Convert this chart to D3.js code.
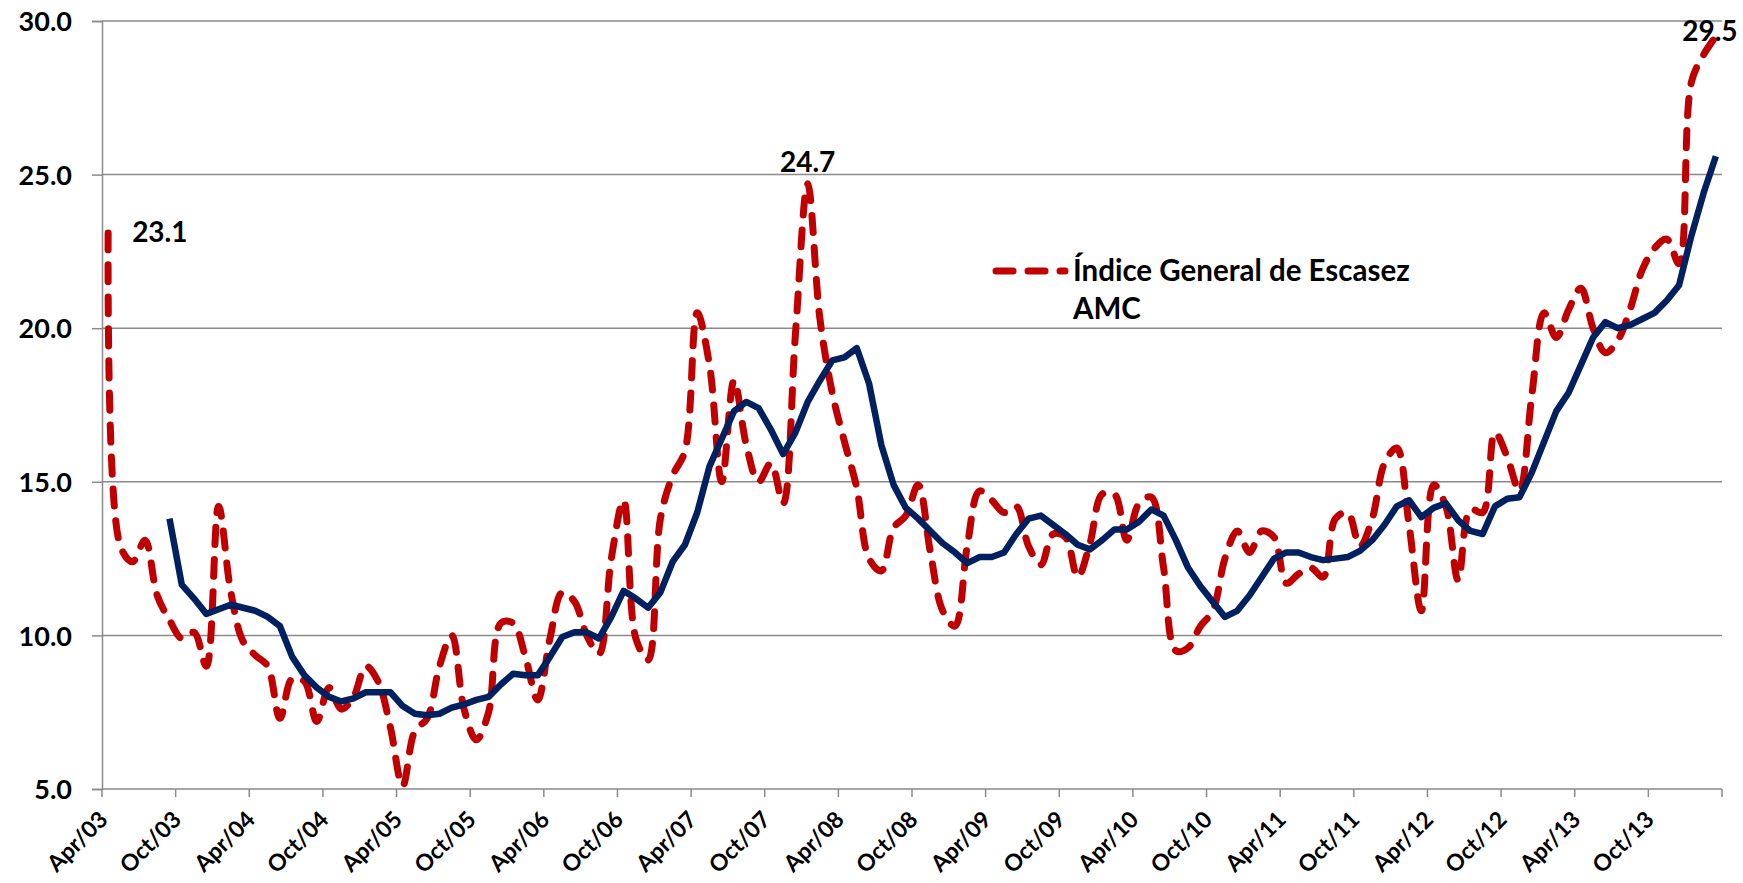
<!DOCTYPE html>
<html>
<head>
<meta charset="utf-8">
<script src="https://cdn.jsdelivr.net/npm/d3@7"></script>
<style>
  html, body { margin: 0; padding: 0; background: #fff; }
  svg text { font-family: Lato, "Open Sans", sans-serif; font-weight: 700; fill: #000; }
</style>
</head>
<body>
<div id="chart"></div>
<script>
(function () {
  "use strict";

  // monthly categories, Apr/03 .. Mar/14
  const MONTH_NAMES = ['Jan','Feb','Mar','Apr','May','Jun','Jul','Aug','Sep','Oct','Nov','Dec'];
  const months = d3.range(132).map(i => {
    const m = (3 + i) % 12, y = 3 + Math.floor((3 + i) / 12);
    return MONTH_NAMES[m] + '/' + String(y).padStart(2, '0');
  });

  const tickLabels = ['Apr/03','Oct/03','Apr/04','Oct/04','Apr/05','Oct/05','Apr/06','Oct/06',
    'Apr/07','Oct/07','Apr/08','Oct/08','Apr/09','Oct/09','Apr/10','Oct/10','Apr/11','Oct/11',
    'Apr/12','Oct/12','Apr/13','Oct/13'];

  const yTicks = [5, 10, 15, 20, 25, 30];

  // Índice General de Escasez (one row = Apr..Mar)
  const indice = [
    23.1, 12.9, 12.4, 13.1, 11.3, 10.5,  9.9, 10.1,  9.0, 14.2, 11.4,  9.8,
     9.35, 9.0,  7.3,  8.6,  8.5,  7.2,  8.3,  7.6,  8.0,  9.0,  8.5,  7.0,
     5.1,  6.9,  7.3,  9.0, 10.0,  7.6,  6.6,  7.5, 10.4, 10.4,  9.3,  7.9,
     9.9, 11.4, 11.1, 10.0,  9.4, 12.5, 14.4,  9.9,  9.2, 13.8, 15.2, 16.0,
    20.5, 18.8, 15.0, 18.3, 16.2, 15.0, 15.6, 14.3, 19.8, 24.7, 20.3, 17.9,
    16.3, 14.8, 12.5, 12.1, 13.5, 13.9, 14.9, 12.7, 10.8, 10.3, 12.9, 14.7,
    14.4, 14.0, 14.2, 12.9, 12.3, 13.3, 13.2, 11.9, 13.0, 14.6, 14.6, 13.1,
    14.3, 14.5, 12.2,  9.5,  9.6, 10.3, 10.8, 12.5, 13.4, 12.7, 13.4, 13.2,
    11.7, 12.0, 12.2, 11.9, 13.8, 14.0, 12.9, 13.8, 15.6, 16.1, 13.6, 10.8,
    14.9, 14.2, 11.8, 14.1, 14.0, 16.6, 15.8, 14.7, 17.8, 20.5, 19.7, 20.6,
    21.3, 20.0, 19.2, 19.6, 20.6, 21.9, 22.6, 22.9, 22.1, 28.0, 28.9, 29.5
  ];

  // AMC
  const amc = [
    null, null, null, null, null, 13.8, 11.65, 11.2, 10.7, 10.85, 11.0, 10.9,
    10.8, 10.6, 10.3,  9.3,  8.7,  8.3,  8.0,  7.85, 7.95, 8.15, 8.15, 8.15,
     7.7,  7.45, 7.4,  7.45, 7.65, 7.75, 7.9,  8.0,  8.4,  8.75, 8.7,  8.7,
     9.3,  9.95, 10.1, 10.1,  9.9, 10.6, 11.45, 11.2, 10.9, 11.4, 12.4, 12.95,
    14.0, 15.5, 16.4, 17.3, 17.6, 17.4, 16.7, 15.9, 16.6, 17.6, 18.3, 18.95,
    19.05, 19.35, 18.2, 16.2, 14.9, 14.15, 13.8, 13.4, 13.0, 12.7, 12.35, 12.55,
    12.55, 12.7, 13.3, 13.8, 13.9, 13.6, 13.3, 12.95, 12.8, 13.1, 13.45, 13.45,
    13.7, 14.1, 13.9, 13.1, 12.2, 11.6, 11.1, 10.6, 10.8, 11.3, 11.9, 12.5,
    12.7, 12.7, 12.55, 12.45, 12.5, 12.55, 12.75, 13.1, 13.6, 14.2, 14.4, 13.85,
    14.15, 14.3, 13.75, 13.4, 13.3, 14.2, 14.45, 14.5, 15.3, 16.3, 17.3, 17.9,
    18.8, 19.7, 20.2, 20.0, 20.1, 20.3, 20.5, 20.9, 21.4, 23.0, 24.4, 25.6
  ];

  // point labels: index into the months
  const callouts = [
    { i: 0,   text: '23.1', dx: 24,  dy: 9,   anchor: 'start' },
    { i: 57,  text: '24.7', dx: 0,   dy: -12, anchor: 'middle' },
    { i: 131, text: '29.5', dx: -6,  dy: 5,   anchor: 'middle' }
  ];

  const W = 1743, H = 883;
  const svg = d3.select('#chart').append('svg')
    .attr('width', W).attr('height', H)
    .style('display', 'block');

  const x = d3.scaleBand().domain(months).range([102, 1722]).padding(0);
  const y = d3.scaleLinear().domain([5, 30]).range([789, 21]);
  const cx = d => x(d) + x.bandwidth() / 2;

  // gridlines
  svg.append('g')
    .selectAll('line').data(yTicks.filter(v => v > 5)).enter().append('line')
    .attr('x1', 102).attr('x2', 1722)
    .attr('y1', d => y(d)).attr('y2', d => y(d))
    .attr('stroke', '#8a8a8a').attr('stroke-width', 1.5);

  // y axis
  const yAxis = svg.append('g').attr('transform', 'translate(102,0)')
    .call(d3.axisLeft(y).tickValues(yTicks).tickFormat(d3.format('.1f')).tickSize(10).tickPadding(20));
  yAxis.select('.domain').attr('stroke', '#8a8a8a').attr('stroke-width', 1.5);
  yAxis.selectAll('.tick line').attr('stroke', '#8a8a8a').attr('stroke-width', 1.5);
  yAxis.selectAll('.tick text')
    .style('font-size', '27px').attr('dy', '0.36em');

  // x axis: labels every 6 months, ticks on category boundaries
  const xAxis = svg.append('g').attr('transform', 'translate(0,789)')
    .call(d3.axisBottom(x).tickValues(tickLabels).tickSize(0).tickPadding(0));
  xAxis.select('.domain').remove();
  xAxis.selectAll('.tick text')
    .style('font-size', '23px')
    .attr('text-anchor', 'end')
    .attr('dy', 0)
    .attr('y', 0)
    .attr('transform', 'translate(1,32) rotate(-45)');

  const bounds = d3.range(0, 133, 6).map(i => i < 132 ? x(months[i]) : x.range()[1]);
  const xg = svg.append('g');
  xg.append('line')
    .attr('x1', 102).attr('x2', 1722).attr('y1', 789).attr('y2', 789)
    .attr('stroke', '#8a8a8a').attr('stroke-width', 1.5);
  xg.selectAll('line.tk').data(bounds).enter().append('line').attr('class', 'tk')
    .attr('x1', d => d).attr('x2', d => d).attr('y1', 789).attr('y2', 797)
    .attr('stroke', '#8a8a8a').attr('stroke-width', 1.5);

  // series
  const redLine = d3.line()
    .defined(d => d[1] != null)
    .x(d => cx(d[0])).y(d => y(d[1]))
    .curve(d3.curveCatmullRom);
  const blueLine = d3.line()
    .defined(d => d[1] != null)
    .x(d => cx(d[0])).y(d => y(d[1]));

  svg.append('path')
    .datum(months.map((m, i) => [m, indice[i]]))
    .attr('d', redLine)
    .attr('fill', 'none')
    .attr('stroke', '#c00000')
    .attr('stroke-width', 7)
    .attr('stroke-dasharray', '17,15')
    .attr('stroke-linecap', 'round')
    .attr('stroke-linejoin', 'round');

  svg.append('path')
    .datum(months.map((m, i) => [m, amc[i]]))
    .attr('d', blueLine)
    .attr('fill', 'none')
    .attr('stroke', '#002060')
    .attr('stroke-width', 6.5)
    .attr('stroke-linejoin', 'round');

  // value labels
  svg.append('g').selectAll('text').data(callouts).enter().append('text')
    .attr('x', d => cx(months[d.i]) + d.dx)
    .attr('y', d => y(indice[d.i]) + d.dy)
    .attr('text-anchor', d => d.anchor)
    .style('font-size', '28px')
    .text(d => d.text);

  // legend
  const lg = svg.append('g').attr('transform', 'translate(993,271)');
  lg.append('line')
    .attr('x1', 3).attr('x2', 72).attr('y1', 0).attr('y2', 0)
    .attr('stroke', '#c00000').attr('stroke-width', 7)
    .attr('stroke-dasharray', '17,15').attr('stroke-linecap', 'round');
  lg.append('text').attr('x', 80).attr('y', 10).style('font-size', '29.5px')
    .text('Índice General de Escasez');
  lg.append('text').attr('x', 80).attr('y', 48).style('font-size', '29.5px')
    .text('AMC');
})();
</script>
</body>
</html>
